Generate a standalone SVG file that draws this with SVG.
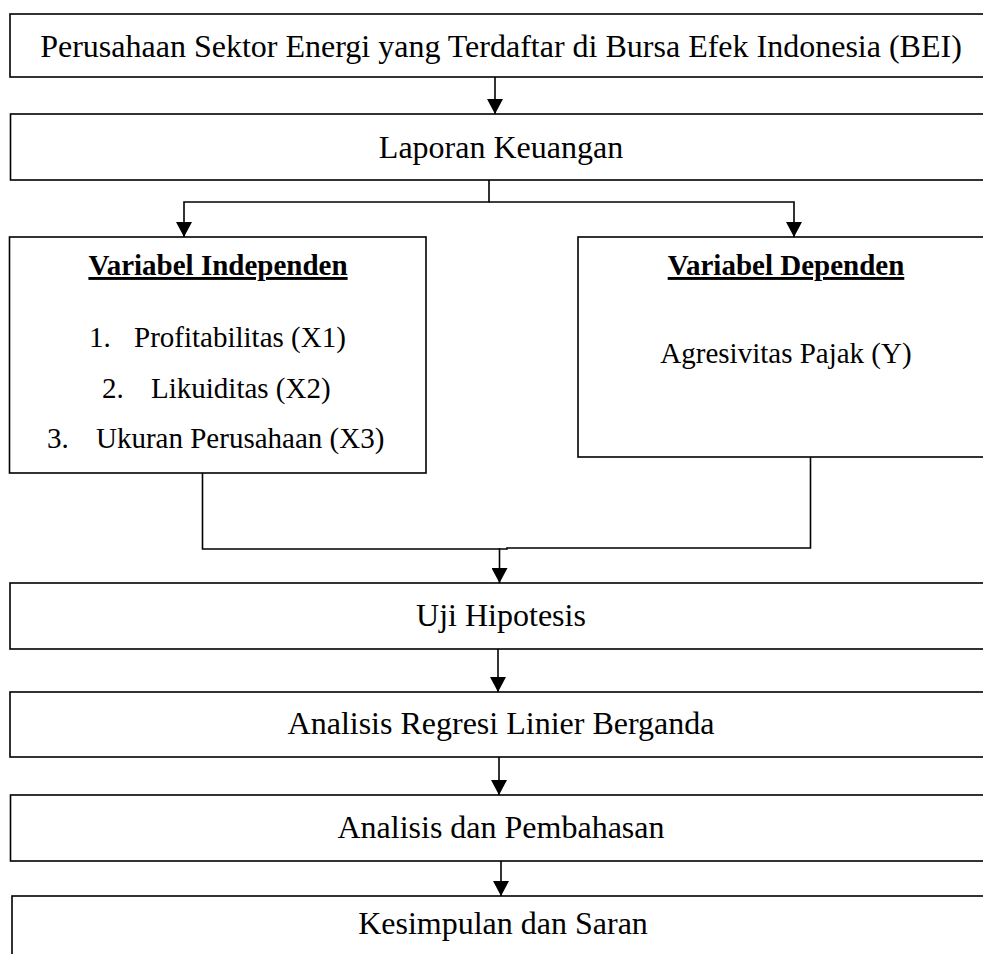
<svg xmlns="http://www.w3.org/2000/svg" width="983" height="954" viewBox="0 0 983 954">
  <style>
    .box { fill: #ffffff; stroke: #000000; stroke-width: 1.6; }
    .conn { fill: none; stroke: #000000; stroke-width: 1.6; }
    .t { font-family: "Liberation Serif", "Times New Roman", serif; fill: #000000; }
    .main { font-size: 32px; text-anchor: middle; }
    .inner { font-size: 29px; }
    .mid { text-anchor: middle; }
    .hd { font-weight: bold; text-decoration: underline; }
  </style>
  <defs>
    <marker id="arrow" markerUnits="userSpaceOnUse" markerWidth="16" markerHeight="16" refX="15" refY="8" orient="auto">
      <path d="M0,0 L15,8 L0,16 z" fill="#000000"/>
    </marker>
  </defs>
  <rect width="983" height="954" fill="#ffffff"/>

  <g id="node-bei">
    <rect class="box" x="10" y="14" width="990" height="63"/>
    <text class="t main" x="501" y="57">Perusahaan Sektor Energi yang Terdaftar di Bursa Efek Indonesia (BEI)</text>
  </g>

  <g id="node-laporan">
    <rect class="box" x="10.5" y="114" width="990" height="66"/>
    <text class="t main" x="501" y="158">Laporan Keuangan</text>
  </g>

  <g id="node-independen">
    <rect class="box" x="9.5" y="237" width="416.5" height="236"/>
    <text class="t inner hd mid" x="218" y="275">Variabel Independen</text>
    <text class="t inner" y="347"><tspan x="89">1.</tspan><tspan x="134">Profitabilitas (X1)</tspan></text>
    <text class="t inner" y="398"><tspan x="102">2.</tspan><tspan x="151">Likuiditas (X2)</tspan></text>
    <text class="t inner" y="448"><tspan x="47">3.</tspan><tspan x="96">Ukuran Perusahaan (X3)</tspan></text>
  </g>

  <g id="node-dependen">
    <rect class="box" x="578" y="237" width="420" height="220"/>
    <text class="t inner hd mid" x="786" y="275">Variabel Dependen</text>
    <text class="t inner mid" x="786" y="363">Agresivitas Pajak (Y)</text>
  </g>

  <g id="node-uji">
    <rect class="box" x="10" y="583" width="990" height="66"/>
    <text class="t main" x="501" y="626">Uji Hipotesis</text>
  </g>

  <g id="node-regresi">
    <rect class="box" x="10" y="692" width="990" height="65"/>
    <text class="t main" x="501" y="734">Analisis Regresi Linier Berganda</text>
  </g>

  <g id="node-pembahasan">
    <rect class="box" x="10.5" y="795" width="990" height="66"/>
    <text class="t main" x="501" y="838">Analisis dan Pembahasan</text>
  </g>

  <g id="node-kesimpulan">
    <rect class="box" x="12" y="896" width="990" height="80"/>
    <text class="t main" x="503" y="934">Kesimpulan dan Saran</text>
  </g>

  <g id="connectors">
    <line class="conn" x1="495" y1="77" x2="495" y2="114" marker-end="url(#arrow)"/>
    <polyline class="conn" points="489,180 489,202 184,202 184,237" marker-end="url(#arrow)"/>
    <polyline class="conn" points="489,202 794,202 794,237" marker-end="url(#arrow)"/>
    <polyline class="conn" points="202.5,473 202.5,549 507,549 507,548 810.5,548 810.5,457"/>
    <line class="conn" x1="499.5" y1="548" x2="499.5" y2="583" marker-end="url(#arrow)"/>
    <line class="conn" x1="498" y1="649" x2="498" y2="692" marker-end="url(#arrow)"/>
    <line class="conn" x1="499" y1="757" x2="499" y2="795" marker-end="url(#arrow)"/>
    <line class="conn" x1="501" y1="861" x2="501" y2="896" marker-end="url(#arrow)"/>
  </g>
</svg>
